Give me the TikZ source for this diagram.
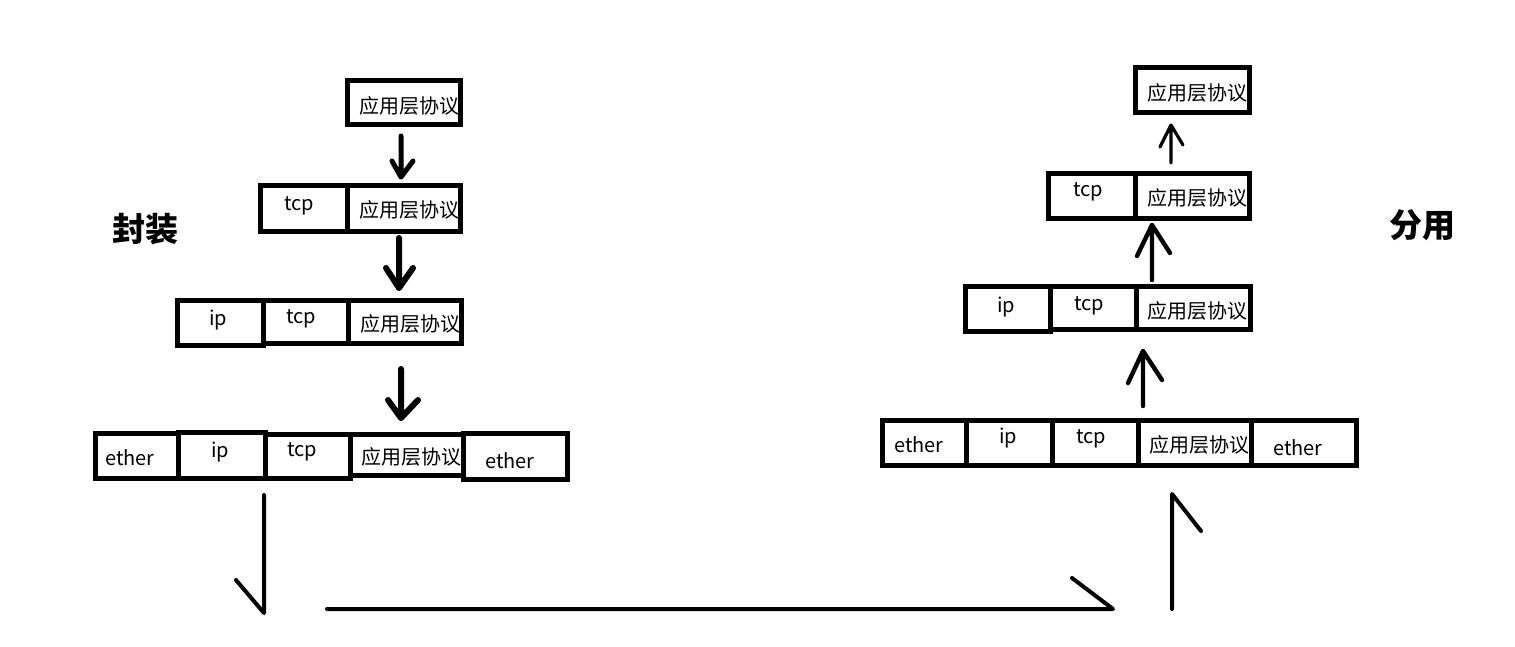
\documentclass[tikz,border=0pt]{standalone}
\usepackage{fontspec}
\setmainfont{Noto Sans CJK SC}
\begin{document}
\begin{tikzpicture}[x=0.5pt,y=-0.5pt,
  cell/.style 2 args={draw, line width=2.5pt, inner sep=0pt, outer sep=0pt,
    anchor=north west, minimum width=0.5pt*#1, minimum height=0.5pt*#2},
  txt/.style={inner sep=0pt, font=\fontsize{10pt}{12pt}\selectfont},
  lat/.style={txt, anchor=base},
  title/.style={inner sep=0pt, font=\fontsize{16.5pt}{18pt}\selectfont\bfseries},
  arr/.style={line width=#1, line cap=round, line join=round},
  arr/.default=2.5pt]
\useasboundingbox (0,0) rectangle (1515,647);

% ---------- encapsulation (left) ----------
\node[cell={113}{44}] (la1) at (347,81) {};

\node[cell={87}{46}]  (lb1) at (260,185) {};
\node[cell={113}{46}] (lb2) at (347,185) {};

\node[cell={86}{45}]  (lc1) at (177,300) {};
\node[cell={85}{43}]  (lc2) at (263,300) {};
\node[cell={113}{43}] (lc3) at (348,300) {};

\node[cell={83}{45}]  (ld1) at (95,433) {};
\node[cell={87}{46}]  (ld2) at (178,432) {};
\node[cell={85}{44}]  (ld3) at (265,434) {};
\node[cell={113}{41}] (ld4) at (350,434) {};
\node[cell={104}{46}] (ld5) at (463,433) {};

\node[txt] (ta1) at (409,106) {应用层协议};
\node[lat] (tb1) at (299,210) {tcp};
\node[txt] (tb2) at (409,210) {应用层协议};
\node[lat] (tc1) at (218,325) {ip};
\node[lat] (tc2) at (301,323) {tcp};
\node[txt] (tc3) at (410,324) {应用层协议};
\node[lat] (td1) at (130,465) {ether};
\node[lat] (td2) at (220,457) {ip};
\node[lat] (td3) at (302,456) {tcp};
\node[txt] (td4) at (411,457) {应用层协议};
\node[lat] (td5) at (510,468) {ether};

\node[title] (fz) at (145,229) {封装};

% downward arrows between layers
\coordinate (d1s) at (401,136); \coordinate (d1e) at (401,177);
\coordinate (d1l) at (392,161); \coordinate (d1r) at (413,161);
\draw[arr] (d1s) -- (d1e) (d1l) -- (d1e) -- (d1r);

\coordinate (d2s) at (399,238); \coordinate (d2e) at (399,288);
\coordinate (d2l) at (386,268); \coordinate (d2r) at (413,268);
\draw[arr=3pt] (d2s) -- (d2e) (d2l) -- (d2e) -- (d2r);

\coordinate (d3s) at (401,369); \coordinate (d3e) at (401,418);
\coordinate (d3l) at (388,400); \coordinate (d3r) at (418,400);
\draw[arr=3pt] (d3s) -- (d3e) (d3l) -- (d3e) -- (d3r);

% ---------- demultiplexing (right) ----------
\node[cell={114}{45}] (ra1) at (1135,68) {};

\node[cell={87}{45}]  (rb1) at (1048,173) {};
\node[cell={114}{45}] (rb2) at (1135,173) {};

\node[cell={85}{45}]  (rc1) at (965,286) {};
\node[cell={86}{43}]  (rc2) at (1050,286) {};
\node[cell={114}{43}] (rc3) at (1136,286) {};

\node[cell={84}{45}]  (rd1) at (882,420) {};
\node[cell={86}{45}]  (rd2) at (966,420) {};
\node[cell={86}{45}]  (rd3) at (1052,420) {};
\node[cell={113}{45}] (rd4) at (1138,420) {};
\node[cell={105}{45}] (rd5) at (1251,420) {};

\node[txt] (sa1) at (1197,93) {应用层协议};
\node[lat] (sb1) at (1088,197) {tcp};
\node[txt] (sb2) at (1197,198) {应用层协议};
\node[lat] (sc1) at (1006,312) {ip};
\node[lat] (sc2) at (1089,310) {tcp};
\node[txt] (sc3) at (1197,311) {应用层协议};
\node[lat] (sd1) at (919,452) {ether};
\node[lat] (sd2) at (1008,443) {ip};
\node[lat] (sd3) at (1091,443) {tcp};
\node[txt] (sd4) at (1199,445) {应用层协议};
\node[lat] (sd5) at (1298,455) {ether};

\node[title] (fy) at (1422,225) {分用};

% upward arrows between layers
\coordinate (u1s) at (1171,163); \coordinate (u1e) at (1171,125);
\coordinate (u1l) at (1160,147); \coordinate (u1r) at (1183,145);
\draw[arr=1.6pt] (u1s) -- (u1e) (u1l) -- (u1e) -- (u1r);

\coordinate (u2s) at (1152,280); \coordinate (u2e) at (1152,225);
\coordinate (u2l) at (1137,256); \coordinate (u2r) at (1170,253);
\draw[arr=2.2pt] (u2s) -- (u2e) (u2l) -- (u2e) -- (u2r);

\coordinate (u3s) at (1143,406); \coordinate (u3e) at (1143,351);
\coordinate (u3l) at (1128,383); \coordinate (u3r) at (1162,380);
\draw[arr=2.2pt] (u3s) -- (u3e) (u3l) -- (u3e) -- (u3r);

% ---------- transmission path ----------
\coordinate (p1s) at (264,495); \coordinate (p1e) at (264,613);
\coordinate (p1h) at (236,580);
\draw[arr=2pt] (p1s) -- (p1e) -- (p1h);

\coordinate (p2s) at (327,609); \coordinate (p2e) at (1113,609);
\coordinate (p2h) at (1072,578);
\draw[arr=2pt] (p2s) -- (p2e) -- (p2h);

\coordinate (p3s) at (1172,609); \coordinate (p3e) at (1172,494);
\coordinate (p3h) at (1201,531);
\draw[arr=2pt] (p3s) -- (p3e) -- (p3h);
\end{tikzpicture}
\end{document}
